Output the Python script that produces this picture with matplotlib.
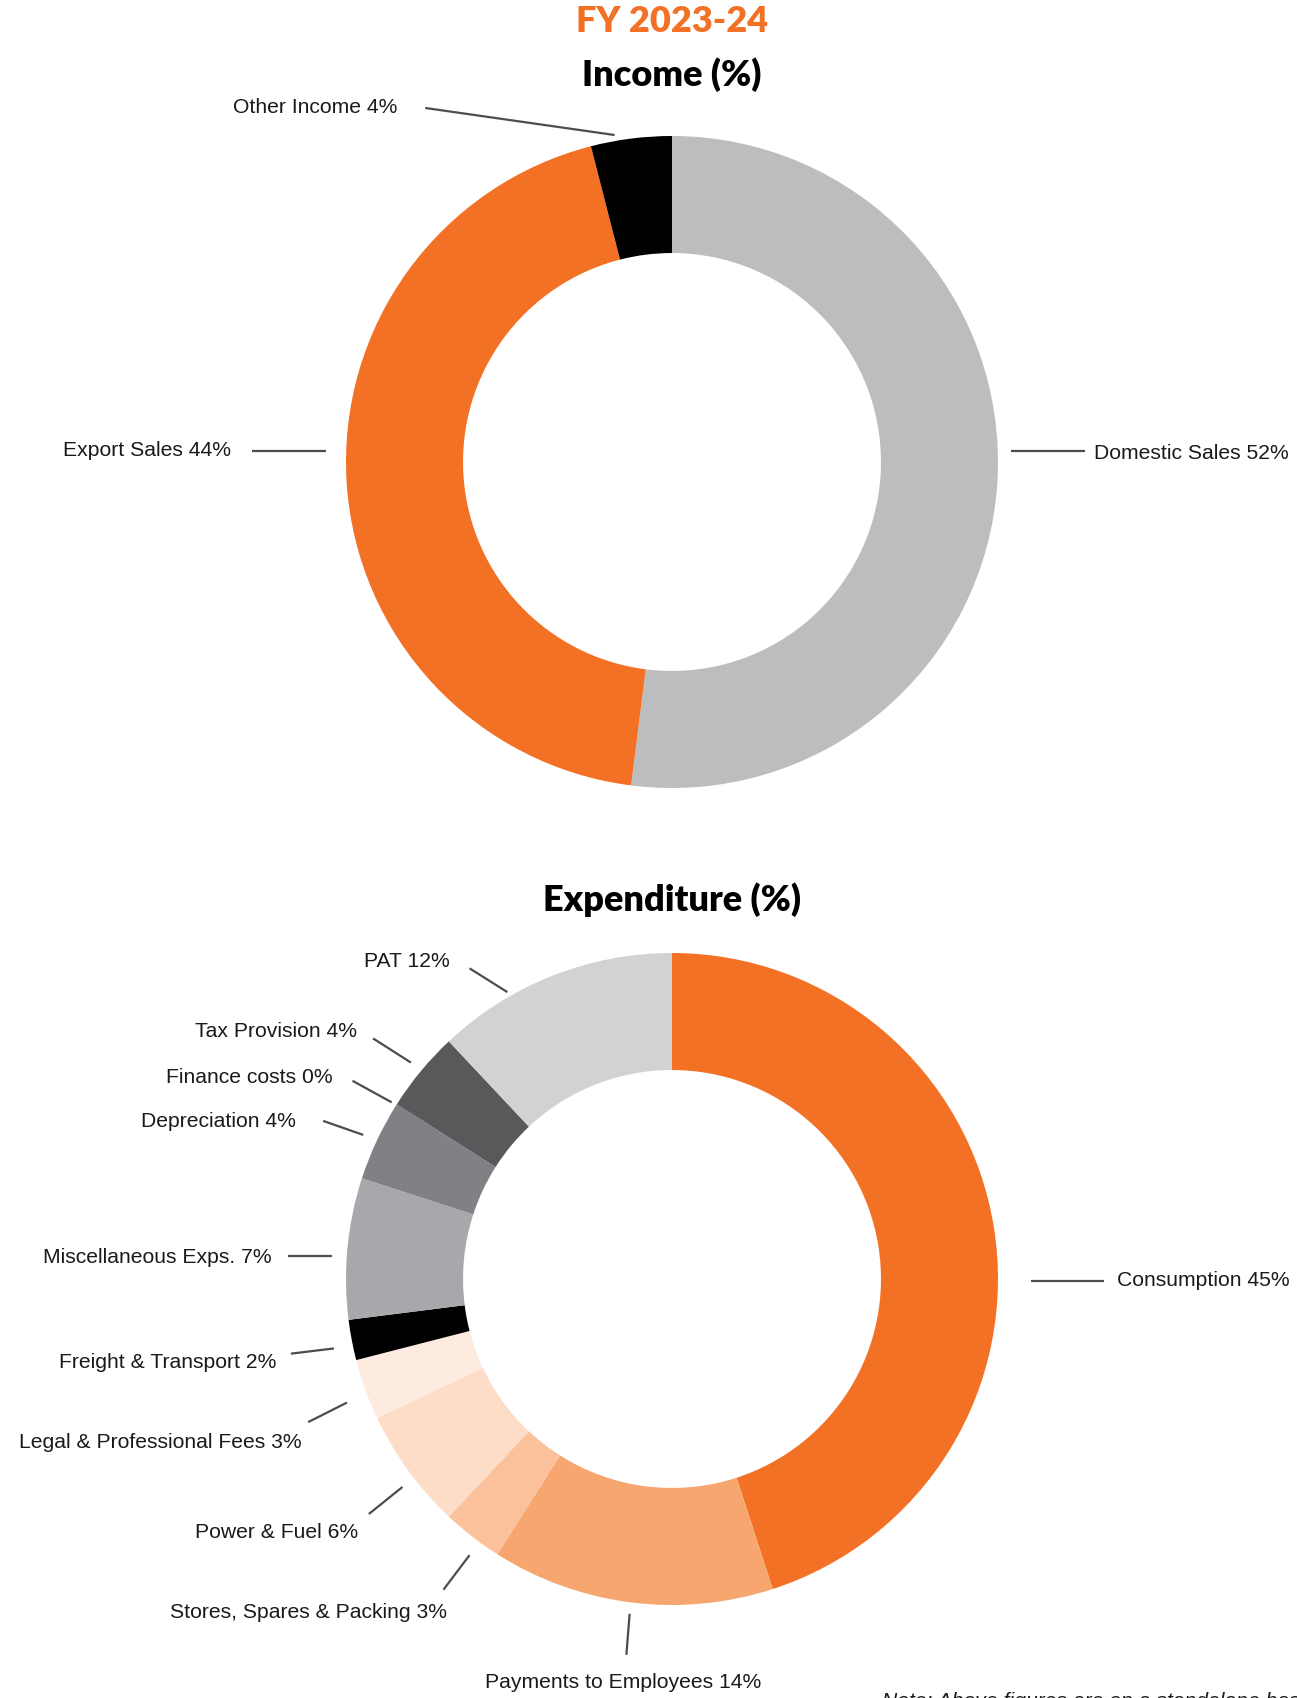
import matplotlib
matplotlib.use("Agg")
import matplotlib.pyplot as plt

plt.rcParams["font.family"] = ["Liberation Sans", "DejaVu Sans"]

# Income split
income_labels = ["Domestic Sales", "Export Sales", "Other Income"]
income_values = [52, 44, 4]
income_colors = ["#BCBDBF", "#F37125", "#000000"]

# Expenditure split
exp_labels = ["Consumption", "Payments to Employees", "Stores, Spares & Packing",
              "Power & Fuel", "Legal & Professional Fees", "Freight & Transport",
              "Miscellaneous Exps.", "Depreciation", "Finance costs", "Tax Provision", "PAT"]
exp_values = [45, 14, 3, 6, 3, 2, 7, 4, 0, 4, 12]
exp_colors = ["#F37125", "#F7A66F", "#FAC19A", "#FDDDC7", "#FEEBE0", "#000000",
              "#A7A8AB", "#808184", "#6D6E70", "#58595B", "#D1D2D4"]

# label placement: (text x, text y, align, line start, line end) in donut radii
income_layout = [
    (1.296, 0.030, "left", (1.040, 0.033), (1.266, 0.033)),
    (-1.352, 0.037, "right", (-1.289, 0.033), (-1.060, 0.033)),
    (-0.841, 1.090, "right", (-0.757, 1.086), (-0.176, 1.003)),
]
exp_layout = [
    (1.365, -0.003, "left", (1.100, -0.007), (1.326, -0.007)),
    (-0.150, -1.236, "center", (-0.140, -1.153), (-0.130, -1.027)),
    (-0.691, -1.020, "right", (-0.701, -0.953), (-0.621, -0.847)),
    (-0.963, -0.774, "right", (-0.930, -0.721), (-0.827, -0.638)),
    (-1.136, -0.498, "right", (-1.116, -0.439), (-0.997, -0.379)),
    (-1.213, -0.252, "right", (-1.169, -0.229), (-1.037, -0.213)),
    (-1.229, 0.070, "right", (-1.179, 0.070), (-1.043, 0.070)),
    (-1.153, 0.485, "right", (-1.070, 0.485), (-0.947, 0.442)),
    (-1.040, 0.621, "right", (-0.980, 0.608), (-0.860, 0.542)),
    (-0.967, 0.761, "right", (-0.917, 0.738), (-0.801, 0.664)),
    (-0.681, 0.977, "right", (-0.621, 0.953), (-0.505, 0.880)),
]

W, H = 1297, 1699
R = 326  # donut radius in pixels
K = 1.9  # half axes span in radii
fig = plt.figure(figsize=(W / 100, H / 100), dpi=100)


def donut(cx, cy, labels, values, colors, layout):
    ax = fig.add_axes([(cx - K * R) / W, (H - cy - K * R) / H, 2 * K * R / W, 2 * K * R / H])
    ax.pie(values, colors=colors, startangle=90, counterclock=False, radius=1,
           wedgeprops=dict(width=0.359, linewidth=0))
    ax.set_xlim(-K, K)
    ax.set_ylim(-K, K)
    ax.set_aspect("equal")
    ax.axis("off")
    for name, val, (tx, ty, ha, p0, p1) in zip(labels, values, layout):
        ax.text(tx, ty, f"{name} {val}%", ha=ha, va="center", fontsize=15.2, color="#1A1A1A")
        ax.plot([p0[0], p1[0]], [p0[1], p1[1]], color="#4D4D4F", lw=1.6,
                solid_capstyle="butt", clip_on=False)
    return ax


donut(672, 463, income_labels, income_values, income_colors, income_layout)
donut(672, 1280, exp_labels, exp_values, exp_colors, exp_layout)

fig.text(672 / W, 1 - 22 / H, "FY 2023-24", ha="center", va="center", fontsize=26,
         fontweight="heavy", color="#F37125", family="Lato")
fig.text(672 / W, 1 - 75 / H, "Income (%)", ha="center", va="center", fontsize=26,
         fontweight="heavy", color="#000000", family="Lato")
fig.text(672 / W, 1 - 900 / H, "Expenditure (%)", ha="center", va="center", fontsize=26,
         fontweight="heavy", color="#000000", family="Lato")
fig.text(882 / W, 1 - 1692 / H, "Note: Above figures are on a standalone basis",
         ha="left", va="top", fontsize=15.2, style="italic", color="#1A1A1A")

fig.savefig("out.png", dpi=100)
